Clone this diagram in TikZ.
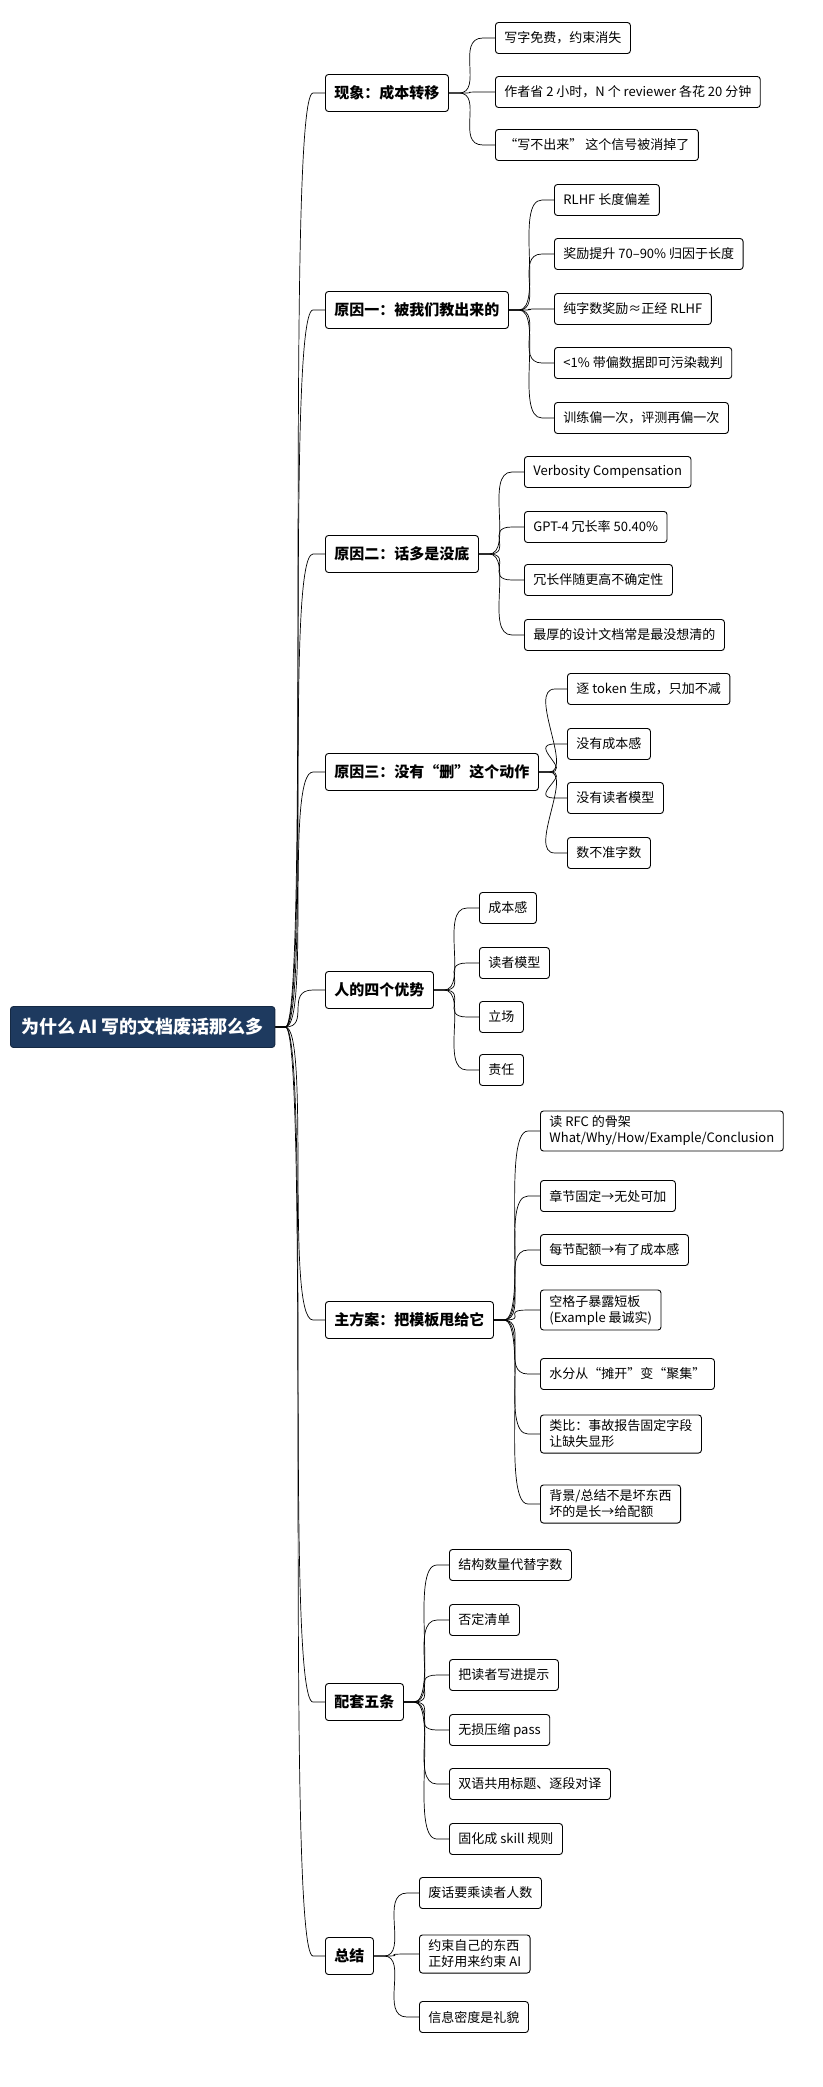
\documentclass[tikz,border=0pt]{standalone}
\usepackage{fontspec}
\setmainfont{Noto Sans CJK SC}
\usetikzlibrary{calc}
\tikzset{
  box/.style={draw=black,line width=0.9pt,rounded corners=3pt,fill=white,anchor=west,
    inner xsep=9pt,inner ysep=5pt,minimum height=31pt,align=left},
  root/.style={box,fill=rootblue,draw=rootblue!70!black,text=white,font=\fontsize{18}{21}\selectfont\bfseries,minimum height=41pt,inner xsep=11pt},
  topic/.style={box,font=\fontsize{15}{18}\selectfont\bfseries,minimum height=37pt},
  leaf/.style={box,font=\fontsize{13}{16}\selectfont},
  link/.style={line width=0.7pt,black}
}
\definecolor{rootblue}{HTML}{1E3A5F}
\newcommand{\branch}[2]{\draw[link] (#1.east) -- ++(10pt,0) coordinate (s)
  .. controls ($(s)+(25pt,0)$) and ($(#2.west)+(-40pt,0)$) .. ($(#2.west)+(-12pt,0)$) -- (#2.west);}
\begin{document}
\begin{tikzpicture}[x=1pt,y=-1pt]
\useasboundingbox (0,0) rectangle (822,2087);
\node[root] (r) at (10,1027) {为什么 AI 写的文档废话那么多};
% level one
\node[topic] (t1) at (325,93) {现象：成本转移};
\node[topic] (t2) at (325,310) {原因一：被我们教出来的};
\node[topic] (t3) at (325,554) {原因二：话多是没底};
\node[topic] (t4) at (325,772) {原因三：没有“删”这个动作};
\node[topic] (t5) at (325,990) {人的四个优势};
\node[topic] (t6) at (325,1320) {主方案：把模板甩给它};
\node[topic] (t7) at (325,1702) {配套五条};
\node[topic] (t8) at (325,1956) {总结};
% leaves
\node[leaf] (a1) at (495,38) {写字免费，约束消失};
\node[leaf] (a2) at (495,92) {作者省 2 小时，N 个 reviewer 各花 20 分钟};
\node[leaf] (a3) at (495,145) {“写不出来” 这个信号被消掉了};
\node[leaf] (b1) at (554,200) {RLHF 长度偏差};
\node[leaf] (b2) at (554,254) {奖励提升 70–90\% 归因于长度};
\node[leaf] (b3) at (554,309) {纯字数奖励≈正经 RLHF};
\node[leaf] (b4) at (554,363) {<1\% 带偏数据即可污染裁判};
\node[leaf] (b5) at (554,418) {训练偏一次，评测再偏一次};
\node[leaf] (c1) at (524,472) {Verbosity Compensation};
\node[leaf] (c2) at (524,527) {GPT-4 冗长率 50.40\%};
\node[leaf] (c3) at (524,580) {冗长伴随更高不确定性};
\node[leaf] (c4) at (524,635) {最厚的设计文档常是最没想清的};
\node[leaf] (d1) at (567,689) {逐 token 生成，只加不减};
\node[leaf] (d2) at (567,744) {没有成本感};
\node[leaf] (d3) at (567,798) {没有读者模型};
\node[leaf] (d4) at (567,853) {数不准字数};
\node[leaf] (e1) at (479,908) {成本感};
\node[leaf] (e2) at (479,963) {读者模型};
\node[leaf] (e3) at (479,1017) {立场};
\node[leaf] (e4) at (479,1070) {责任};
\node[leaf] (f1) at (540,1131) {读 RFC 的骨架\\What/Why/How/Example/Conclusion};
\node[leaf] (f2) at (540,1196) {章节固定→无处可加};
\node[leaf] (f3) at (540,1250) {每节配额→有了成本感};
\node[leaf] (f4) at (540,1310) {空格子暴露短板\\(Example 最诚实)};
\node[leaf] (f5) at (540,1374) {水分从“摊开”变“聚集”};
\node[leaf] (f6) at (540,1434) {类比：事故报告固定字段\\让缺失显形};
\node[leaf] (f7) at (540,1504) {背景/总结不是坏东西\\坏的是长→给配额};
\node[leaf] (g1) at (449,1565) {结构数量代替字数};
\node[leaf] (g2) at (449,1620) {否定清单};
\node[leaf] (g3) at (449,1675) {把读者写进提示};
\node[leaf] (g4) at (449,1730) {无损压缩 pass};
\node[leaf] (g5) at (449,1784) {双语共用标题、逐段对译};
\node[leaf] (g6) at (449,1839) {固化成 skill 规则};
\node[leaf] (h1) at (419,1893) {废话要乘读者人数};
\node[leaf] (h2) at (419,1954) {约束自己的东西\\正好用来约束 AI};
\node[leaf] (h3) at (419,2017) {信息密度是礼貌};
% connectors
\foreach \t in {t1,t2,t3,t4,t5,t6,t7,t8} {\branch{r}{\t}}
\foreach \l in {a1,a2,a3} {\branch{t1}{\l}}
\foreach \l in {b1,b2,b3,b4,b5} {\branch{t2}{\l}}
\foreach \l in {c1,c2,c3,c4} {\branch{t3}{\l}}
\foreach \l in {d1,d2,d3,d4} {\branch{t4}{\l}}
\foreach \l in {e1,e2,e3,e4} {\branch{t5}{\l}}
\foreach \l in {f1,f2,f3,f4,f5,f6,f7} {\branch{t6}{\l}}
\foreach \l in {g1,g2,g3,g4,g5,g6} {\branch{t7}{\l}}
\foreach \l in {h1,h2,h3} {\branch{t8}{\l}}
\end{tikzpicture}
\end{document}
